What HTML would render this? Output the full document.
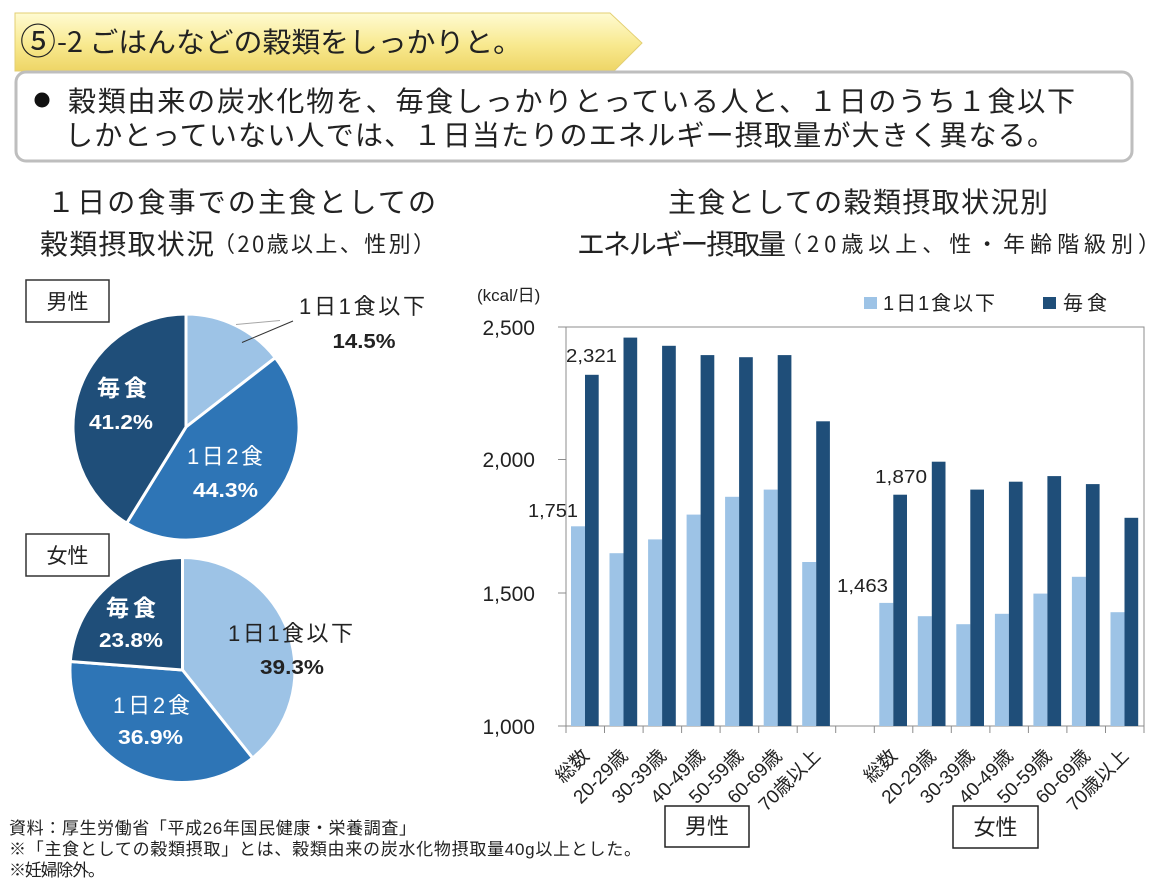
<!DOCTYPE html>
<html><head><meta charset="utf-8">
<style>
html,body{margin:0;padding:0;background:#fff;}
svg{display:block;}
text{font-family:"Liberation Sans","Noto Sans CJK JP",sans-serif;}
.cjk{font-family:"Noto Sans CJK JP","Liberation Sans",sans-serif;}
</style></head>
<body>
<svg width="1167" height="885" viewBox="0 0 1167 885" xmlns="http://www.w3.org/2000/svg">
<defs>
<linearGradient id="ban" x1="0" y1="0" x2="0" y2="1">
<stop offset="0" stop-color="#FFFBD2"/>
<stop offset="0.55" stop-color="#F8E98F"/>
<stop offset="1" stop-color="#EED566"/>
</linearGradient>
</defs>
<rect width="1167" height="885" fill="#fff"/>

<!-- Banner -->
<polygon points="15,13 610,13 642,43 614,71 15,71" fill="url(#ban)" stroke="#E3CF73" stroke-width="1"/>
<text x="20" y="54" font-size="36" fill="#222" class="cjk">⑤</text>
<text x="57" y="52" font-size="28" fill="#222" class="cjk" textLength="465" lengthAdjust="spacingAndGlyphs">-2 ごはんなどの穀類をしっかりと。</text>

<!-- Box -->
<rect x="16" y="72" width="1116" height="89" rx="10" ry="10" fill="#fff" stroke="#BEBEBE" stroke-width="3"/>
<circle cx="42" cy="100" r="7.5" fill="#111"/>
<text x="68" y="111" font-size="28" fill="#222" class="cjk" textLength="1007" lengthAdjust="spacing">穀類由来の炭水化物を、毎食しっかりとっている人と、１日のうち１食以下</text>
<text x="65" y="145" font-size="28" fill="#222" class="cjk" textLength="990" lengthAdjust="spacing">しかとっていない人では、１日当たりのエネルギー摂取量が大きく異なる。</text>

<!-- Left title -->
<text x="47" y="212" font-size="28" fill="#222" class="cjk" textLength="389" lengthAdjust="spacing">１日の食事での主食としての</text>
<text x="40" y="254" font-size="28" fill="#222" class="cjk" textLength="174" lengthAdjust="spacing">穀類摂取状況</text>
<text x="213" y="252" font-size="22" fill="#222" class="cjk" textLength="222" lengthAdjust="spacing">（20歳以上、性別）</text>

<!-- Right title -->
<text x="668" y="212" font-size="28" fill="#222" class="cjk" textLength="380" lengthAdjust="spacing">主食としての穀類摂取状況別</text>
<text x="577" y="254" font-size="28" fill="#222" class="cjk" textLength="209" lengthAdjust="spacing">エネルギー摂取量</text>
<text x="780" y="252" font-size="22" fill="#222" class="cjk" textLength="380" lengthAdjust="spacing">（20歳以上、性・年齢階級別）</text>

<!-- Male pie -->
<rect x="26" y="280" width="83" height="42" fill="#fff" stroke="#333" stroke-width="1.5"/>
<text x="67.5" y="309" font-size="21" fill="#222" text-anchor="middle" class="cjk">男性</text>
<g stroke="#fff" stroke-width="3" stroke-linejoin="round">
<path d="M186,427 L186,314 A113,113 0 0 1 275.3,357.7 Z" fill="#9DC3E6"/>
<path d="M186,427 L275.3,357.7 A113,113 0 0 1 126.7,523.2 Z" fill="#2E75B6"/>
<path d="M186,427 L126.7,523.2 A113,113 0 0 1 186,314 Z" fill="#1F4E79"/>
</g>
<line x1="236" y1="324.5" x2="280" y2="320.5" stroke="#A6A6A6" stroke-width="1"/>
<line x1="242" y1="342.5" x2="293" y2="321" stroke="#333" stroke-width="1"/>
<text x="299" y="314" font-size="22" fill="#222" textLength="126" lengthAdjust="spacing">1日1食以下</text>
<text x="364" y="348" font-size="20" font-weight="bold" fill="#222" text-anchor="middle" textLength="63" lengthAdjust="spacingAndGlyphs">14.5%</text>
<text x="122" y="396" font-size="23" font-weight="bold" fill="#fff" text-anchor="middle" class="cjk" textLength="50" lengthAdjust="spacing">毎食</text>
<text x="121" y="429" font-size="20" font-weight="bold" fill="#fff" text-anchor="middle" textLength="64" lengthAdjust="spacingAndGlyphs">41.2%</text>
<text x="225" y="464" font-size="22" fill="#fff" text-anchor="middle" textLength="76" lengthAdjust="spacing">1日2食</text>
<text x="225.5" y="497" font-size="20" font-weight="bold" fill="#fff" text-anchor="middle" textLength="65" lengthAdjust="spacingAndGlyphs">44.3%</text>

<!-- Female pie -->
<rect x="26" y="534" width="83" height="42" fill="#fff" stroke="#333" stroke-width="1.5"/>
<text x="67.5" y="563" font-size="21" fill="#222" text-anchor="middle" class="cjk">女性</text>
<g stroke="#fff" stroke-width="3" stroke-linejoin="round">
<path d="M182.5,670 L182.5,557.5 A112.5,112.5 0 0 1 252.6,758 Z" fill="#9DC3E6"/>
<path d="M182.5,670 L252.6,758 A112.5,112.5 0 0 1 70.3,661.5 Z" fill="#2E75B6"/>
<path d="M182.5,670 L70.3,661.5 A112.5,112.5 0 0 1 182.5,557.5 Z" fill="#1F4E79"/>
</g>
<text x="131" y="616" font-size="23" font-weight="bold" fill="#fff" text-anchor="middle" class="cjk" textLength="50" lengthAdjust="spacing">毎食</text>
<text x="131" y="647" font-size="20" font-weight="bold" fill="#fff" text-anchor="middle" textLength="64" lengthAdjust="spacingAndGlyphs">23.8%</text>
<text x="290.5" y="641" font-size="22" fill="#222" text-anchor="middle" textLength="125" lengthAdjust="spacing">1日1食以下</text>
<text x="292" y="674" font-size="20" font-weight="bold" fill="#222" text-anchor="middle" textLength="64" lengthAdjust="spacingAndGlyphs">39.3%</text>
<text x="151.5" y="713" font-size="22" fill="#fff" text-anchor="middle" textLength="77" lengthAdjust="spacing">1日2食</text>
<text x="150.5" y="744" font-size="20" font-weight="bold" fill="#fff" text-anchor="middle" textLength="65" lengthAdjust="spacingAndGlyphs">36.9%</text>

<!-- Bar chart -->
<text x="477" y="301" font-size="17" fill="#222">(kcal/日)</text>
<!-- legend -->
<rect x="864" y="297" width="13" height="12" fill="#9DC3E6"/>
<text x="883" y="310" font-size="20" fill="#222" textLength="112" lengthAdjust="spacing">1日1食以下</text>
<rect x="1043" y="297" width="13" height="12" fill="#1F4E79"/>
<text x="1063" y="310" font-size="20" fill="#222" textLength="44" lengthAdjust="spacing">毎食</text>

<!-- plot frame -->
<rect x="566" y="327" width="578" height="399" fill="none" stroke="#8C8C8C" stroke-width="1"/>
<g stroke="#8C8C8C" stroke-width="1">
<line x1="558" y1="327" x2="566" y2="327"/>
<line x1="558" y1="459.5" x2="566" y2="459.5"/>
<line x1="558" y1="593" x2="566" y2="593"/>
<line x1="558" y1="726" x2="566" y2="726"/>
<line x1="566" y1="726" x2="566" y2="733"/>
<line x1="604.5" y1="726" x2="604.5" y2="733"/>
<line x1="643.1" y1="726" x2="643.1" y2="733"/>
<line x1="681.6" y1="726" x2="681.6" y2="733"/>
<line x1="720.1" y1="726" x2="720.1" y2="733"/>
<line x1="758.7" y1="726" x2="758.7" y2="733"/>
<line x1="797.2" y1="726" x2="797.2" y2="733"/>
<line x1="835.7" y1="726" x2="835.7" y2="733"/>
<line x1="874.3" y1="726" x2="874.3" y2="733"/>
<line x1="912.8" y1="726" x2="912.8" y2="733"/>
<line x1="951.3" y1="726" x2="951.3" y2="733"/>
<line x1="989.9" y1="726" x2="989.9" y2="733"/>
<line x1="1028.4" y1="726" x2="1028.4" y2="733"/>
<line x1="1066.9" y1="726" x2="1066.9" y2="733"/>
<line x1="1105.5" y1="726" x2="1105.5" y2="733"/>
<line x1="1144" y1="726" x2="1144" y2="733"/>
</g>
<g font-size="21" fill="#222" text-anchor="end">
<text x="535" y="335">2,500</text>
<text x="535" y="467">2,000</text>
<text x="535" y="601">1,500</text>
<text x="535" y="734">1,000</text>
</g>

<!-- light bars -->
<g fill="#9DC3E6">
<rect x="571" y="526.3" width="14" height="199.7"/>
<rect x="609.5" y="553.2" width="14" height="172.8"/>
<rect x="648.1" y="539.4" width="14" height="186.6"/>
<rect x="686.6" y="514.6" width="14" height="211.4"/>
<rect x="725.1" y="496.8" width="14" height="229.2"/>
<rect x="763.7" y="489.6" width="14" height="236.4"/>
<rect x="802.2" y="562" width="14" height="164"/>
<rect x="879.3" y="602.9" width="14" height="123.1"/>
<rect x="917.8" y="616.2" width="14" height="109.8"/>
<rect x="956.3" y="624.2" width="14" height="101.8"/>
<rect x="994.9" y="613.8" width="14" height="112.2"/>
<rect x="1033.4" y="593.6" width="14" height="132.4"/>
<rect x="1071.9" y="576.8" width="14" height="149.2"/>
<rect x="1110.5" y="612.2" width="14" height="113.8"/>
</g>
<!-- dark bars -->
<g fill="#1F4E79">
<rect x="585" y="374.8" width="13.7" height="351.2"/>
<rect x="623.5" y="337.6" width="13.7" height="388.4"/>
<rect x="662.1" y="345.8" width="13.7" height="380.2"/>
<rect x="700.6" y="355.1" width="13.7" height="370.9"/>
<rect x="739.1" y="357.2" width="13.7" height="368.8"/>
<rect x="777.7" y="355.1" width="13.7" height="370.9"/>
<rect x="816.2" y="421.3" width="13.7" height="304.7"/>
<rect x="893.3" y="494.7" width="13.7" height="231.3"/>
<rect x="931.8" y="461.7" width="13.7" height="264.3"/>
<rect x="970.3" y="489.6" width="13.7" height="236.4"/>
<rect x="1008.9" y="481.7" width="13.7" height="244.3"/>
<rect x="1047.4" y="476.1" width="13.7" height="249.9"/>
<rect x="1085.9" y="484.1" width="13.7" height="241.9"/>
<rect x="1124.5" y="517.8" width="13.7" height="208.2"/>
</g>

<!-- data labels -->
<g font-size="18" fill="#222">
<text x="566" y="362" textLength="51" lengthAdjust="spacingAndGlyphs">2,321</text>
<text x="528" y="517" textLength="50" lengthAdjust="spacingAndGlyphs">1,751</text>
<text x="875" y="483" textLength="52" lengthAdjust="spacingAndGlyphs">1,870</text>
<text x="837" y="592" textLength="51" lengthAdjust="spacingAndGlyphs">1,463</text>
</g>

<!-- x labels -->
<g font-size="19" fill="#222" text-anchor="end">
<text transform="translate(590.3,757) rotate(-45)">総数</text>
<text transform="translate(628.8,757) rotate(-45)">20-29歳</text>
<text transform="translate(667.3,757) rotate(-45)">30-39歳</text>
<text transform="translate(705.9,757) rotate(-45)">40-49歳</text>
<text transform="translate(744.4,757) rotate(-45)">50-59歳</text>
<text transform="translate(782.9,757) rotate(-45)">60-69歳</text>
<text transform="translate(821.5,757) rotate(-45)">70歳以上</text>
<text transform="translate(898.5,757) rotate(-45)">総数</text>
<text transform="translate(937.1,757) rotate(-45)">20-29歳</text>
<text transform="translate(975.6,757) rotate(-45)">30-39歳</text>
<text transform="translate(1014.1,757) rotate(-45)">40-49歳</text>
<text transform="translate(1052.7,757) rotate(-45)">50-59歳</text>
<text transform="translate(1091.2,757) rotate(-45)">60-69歳</text>
<text transform="translate(1129.7,757) rotate(-45)">70歳以上</text>
</g>

<rect x="665" y="806" width="84" height="41" fill="#fff" stroke="#222" stroke-width="1.5"/>
<text x="707" y="834" font-size="22" fill="#222" text-anchor="middle" class="cjk">男性</text>
<rect x="953" y="806" width="85" height="42" fill="#fff" stroke="#222" stroke-width="1.5"/>
<text x="995.5" y="835" font-size="22" fill="#222" text-anchor="middle" class="cjk">女性</text>

<!-- footnotes -->
<g font-size="17" fill="#222" class="cjk">
<text x="9" y="834" textLength="407" lengthAdjust="spacing">資料：厚生労働省「平成26年国民健康・栄養調査」</text>
<text x="9" y="855" textLength="632" lengthAdjust="spacing">※「主食としての穀類摂取」とは、穀類由来の炭水化物摂取量40g以上とした。</text>
<text x="9" y="876" textLength="96" lengthAdjust="spacing">※妊婦除外。</text>
</g>
</svg>
</body></html>
